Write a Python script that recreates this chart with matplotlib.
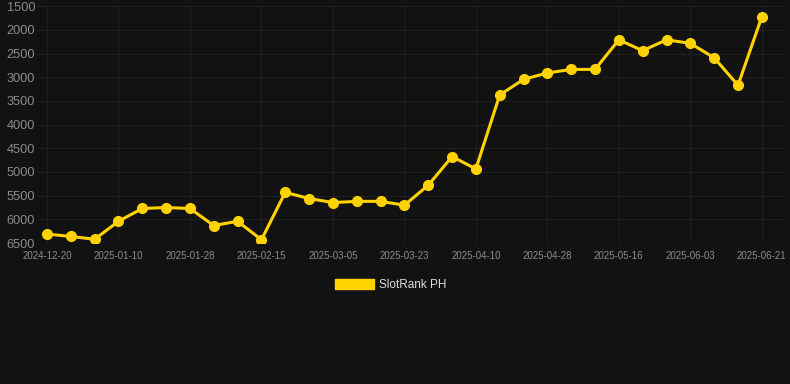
import matplotlib
matplotlib.use("Agg")
import matplotlib.pyplot as plt
import matplotlib.patches as mpatches

plt.rcParams['font.family'] = ['Liberation Sans', 'DejaVu Sans']

# rank values (lower = better, axis inverted)
ranks = [6310, 6360, 6420, 6040, 5770, 5750, 5770, 6130, 6040, 6430,
         5430, 5560, 5645, 5620, 5620, 5700, 5280, 4675, 4935, 3375,
         3045, 2910, 2835, 2835, 2210, 2440, 2210, 2285, 2590, 3170, 1725]
tick_labels = ['2024-12-20', '2025-01-10', '2025-01-28', '2025-02-15', '2025-03-05',
               '2025-03-23', '2025-04-10', '2025-04-28', '2025-05-16', '2025-06-03',
               '2025-06-21']
y_ticks = [1500, 2000, 2500, 3000, 3500, 4000, 4500, 5000, 5500, 6000, 6500]

bg = '#121212'
gold = '#FFD200'

fig = plt.figure(figsize=(7.9, 3.84), dpi=100, facecolor=bg)
ax = fig.add_axes([0.048, 0.367, 0.948, 0.617])
ax.set_facecolor(bg)

x = list(range(len(ranks)))
ax.plot(x, ranks, color=gold, lw=2.2, marker='o', ms=7, zorder=3)

ax.set_ylim(6500, 1500)
ax.set_yticks(y_ticks)
ax.set_xlim(-0.38, 31.05)
ax.set_xticks(x[::3])
ax.set_xticklabels(tick_labels)

ax.grid(True, color='#1f1f1f', lw=0.8)
for s in ax.spines.values():
    s.set_visible(False)
ax.tick_params(axis='y', colors='#8c8c8c', labelsize=9.2, length=0, pad=2)
ax.tick_params(axis='x', colors='#8c8c8c', labelsize=7, length=0, pad=6)

handle = mpatches.Patch(color=gold, label='SlotRank PH')
fig.legend(handles=[handle], loc='center', bbox_to_anchor=(0.495, 0.258), frameon=False,
           fontsize=8.5, labelcolor='#dddddd', handlelength=3.3, handleheight=1.0,
           handletextpad=0.45)

fig.savefig('out.png', dpi=100, facecolor=bg)
